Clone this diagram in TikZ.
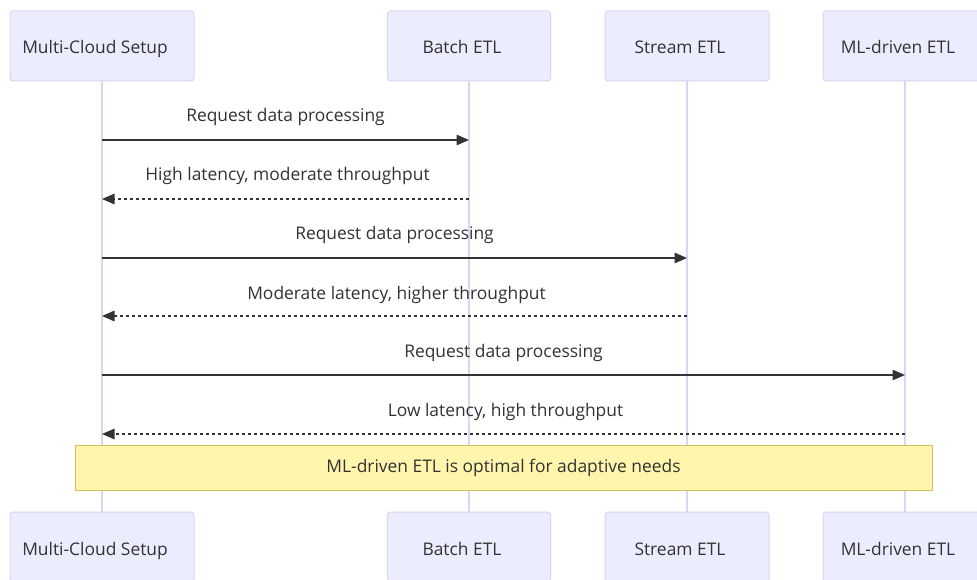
\documentclass[tikz,border=0pt]{standalone}
\usepackage{fontspec}
\setmainfont{Open Sans}
\usetikzlibrary{arrows.meta}
\definecolor{actfill}{HTML}{ECECFF}
\definecolor{actline}{HTML}{DCD3F5}
\definecolor{txt}{HTML}{333333}
\definecolor{notefill}{HTML}{FFF5AD}
\definecolor{noteline}{HTML}{C8C45A}
\begin{document}
\begin{tikzpicture}[x=1pt,y=-1pt,
  actor/.style={draw=actline,fill=actfill,line width=1pt,rounded corners=3pt,minimum height=70pt,inner sep=0pt},
  acttext/.style={font=\fontsize{17.4}{20}\selectfont,text=txt,inner sep=0pt,text height=16pt,text depth=0pt,xshift=-7pt},
  life/.style={draw=actline,line width=1.5pt},
  msg/.style={draw=txt,line width=1.3pt,-{Triangle[length=12.5pt,width=10.5pt]}},
  reply/.style={msg,dash pattern=on 3pt off 3pt},
  lbl/.style={font=\fontsize{17.4}{20}\selectfont,text=txt,inner sep=0pt,anchor=base},
  notebox/.style={draw=noteline,fill=notefill,line width=1pt,inner sep=0pt,font=\fontsize{17.4}{20}\selectfont,text=txt,text height=9pt,text depth=0pt}]
\useasboundingbox (0,0) rectangle (977,580);
\fill[white] (0,0) rectangle (977,580);
% lifelines
\coordinate (l1t) at (102,81); \coordinate (l1b) at (102,512);
\coordinate (l2t) at (469,81); \coordinate (l2b) at (469,512);
\coordinate (l3t) at (687,81); \coordinate (l3b) at (687,512);
\coordinate (l4t) at (905,81); \coordinate (l4b) at (905,512);
\draw[life] (l1t) -- (l1b);
\draw[life] (l2t) -- (l2b);
\draw[life] (l3t) -- (l3b);
\draw[life] (l4t) -- (l4b);
% top actors
\node[actor,minimum width=184pt] (a1) at (102,46) {};
\node[actor,minimum width=163pt] (a2) at (469,46) {};
\node[actor,minimum width=164pt] (a3) at (687,46) {};
\node[actor,minimum width=164pt] (a4) at (905,46) {};
\node[acttext] (a1t) at (a1.center) {Multi-Cloud Setup};
\node[acttext] (a2t) at (a2.center) {Batch ETL};
\node[acttext] (a3t) at (a3.center) {Stream ETL};
\node[acttext] (a4t) at (a4.center) {ML-driven ETL};
% bottom actors
\node[actor,minimum width=184pt] (b1) at (102,547) {};
\node[actor,minimum width=163pt] (b2) at (469,547) {};
\node[actor,minimum width=164pt] (b3) at (687,547) {};
\node[actor,minimum width=164pt] (b4) at (905,547) {};
\node[acttext] (b1t) at (b1.center) {Multi-Cloud Setup};
\node[acttext] (b2t) at (b2.center) {Batch ETL};
\node[acttext] (b3t) at (b3.center) {Stream ETL};
\node[acttext] (b4t) at (b4.center) {ML-driven ETL};
% message anchors
\coordinate (m1s) at (102,140); \coordinate (m1e) at (469,140);
\coordinate (m2s) at (469,199); \coordinate (m2e) at (102,199);
\coordinate (m3s) at (102,258); \coordinate (m3e) at (687,258);
\coordinate (m4s) at (687,316); \coordinate (m4e) at (102,316);
\coordinate (m5s) at (102,375); \coordinate (m5e) at (905,375);
\coordinate (m6s) at (905,434); \coordinate (m6e) at (102,434);
\draw[msg] (m1s) -- (m1e);
\draw[reply] (m2s) -- (m2e);
\draw[msg] (m3s) -- (m3e);
\draw[reply] (m4s) -- (m4e);
\draw[msg] (m5s) -- (m5e);
\draw[reply] (m6s) -- (m6e);
\node[lbl] (t1) at (285.5,122) {Request data processing};
\node[lbl] (t2) at (287.5,181) {High latency, moderate throughput};
\node[lbl] (t3) at (394.5,240) {Request data processing};
\node[lbl] (t4) at (396.5,299) {Moderate latency, higher throughput};
\node[lbl] (t5) at (503.5,357) {Request data processing};
\node[lbl] (t6) at (505.5,416) {Low latency, high throughput};
% note
\node[notebox,minimum width=857pt,minimum height=45pt] (note) at (503.5,467.5) {ML-driven ETL is optimal for adaptive needs};
\end{tikzpicture}
\end{document}
